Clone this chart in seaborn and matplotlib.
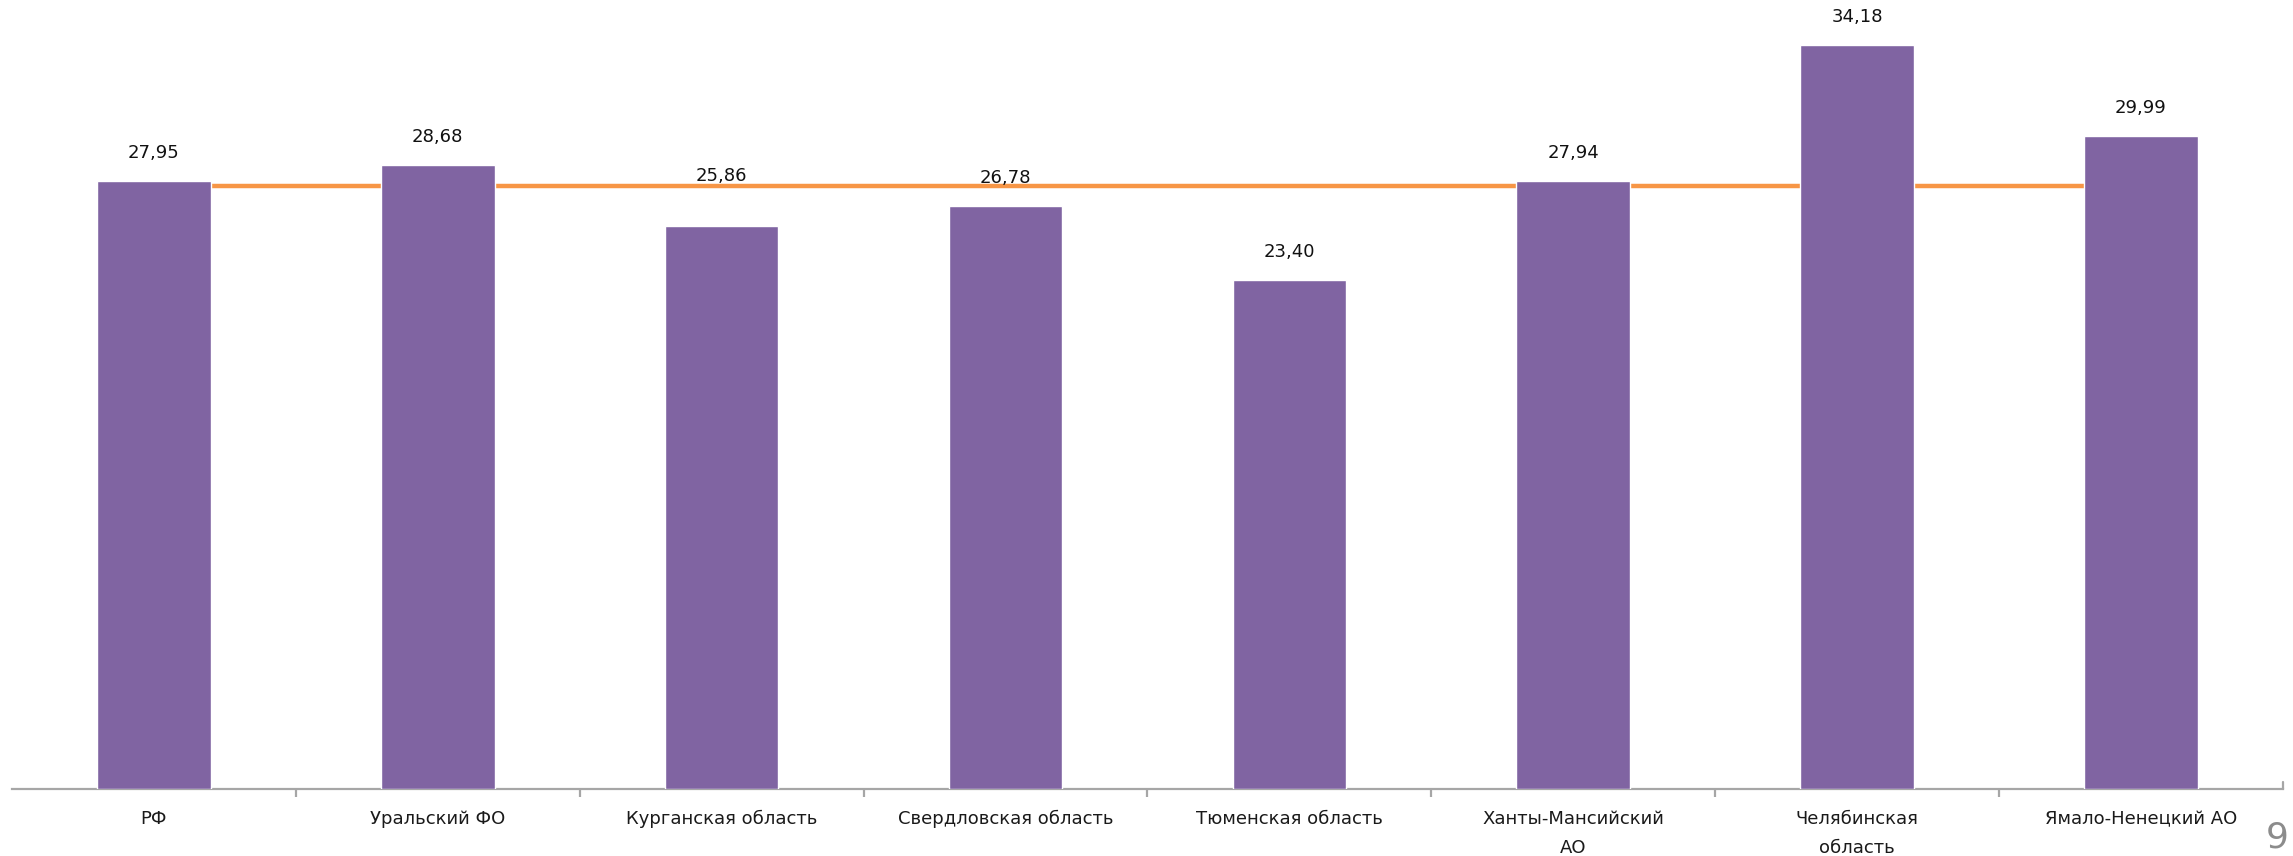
import numpy as np
import pandas as pd
import matplotlib
matplotlib.use("Agg")
import matplotlib.pyplot as plt
import seaborn as sns

categories = ["РФ", "Уральский ФО", "Курганская область", "Свердловская область",
              "Тюменская область", "Ханты-Мансийский\nАО", "Челябинская\nобласть",
              "Ямало-Ненецкий АО"]
values = [27.95, 28.68, 25.86, 26.78, 23.40, 27.94, 34.18, 29.99]
value_labels = ["27,95", "28,68", "25,86", "26,78", "23,40", "27,94", "34,18", "29,99"]
line_values = [27.72] * 8
page_number = "9"

sns.set_theme(style="white")
plt.rcParams["font.family"] = ["DejaVu Sans"]

fig = plt.figure(figsize=(22.93, 8.56), dpi=100)
ax = fig.add_axes([0.0052, 1 - 789 / 856, 0.9904, 789 / 856])

df = pd.DataFrame({"cat": categories, "val": values})
sns.barplot(data=df, x="cat", y="val", color="#8064A2", saturation=1, width=0.4,
            ax=ax, zorder=3)
sns.lineplot(x=np.arange(len(categories)), y=line_values, color="#F79646",
             linewidth=3.2, ax=ax, zorder=2)

ax.set_xlim(-0.5, len(categories) - 0.5)
ax.set_ylim(0, 36.26)
ax.set_xlabel("")
ax.set_ylabel("")
ax.set_yticks([])
for s in ["left", "right", "top"]:
    ax.spines[s].set_visible(False)
ax.spines["bottom"].set_color("#A6A6A6")
ax.spines["bottom"].set_linewidth(1.6)

ax.set_xticks(range(len(categories)))
ax.set_xticklabels(categories, fontsize=13, color="#1a1a1a", linespacing=1.8,
                   va="top")
ax.tick_params(axis="x", which="major", length=0, pad=15, bottom=True)
ax.set_xticks(np.arange(0.5, len(categories) - 0.5, 1), minor=True)
ax.tick_params(axis="x", which="minor", length=6, width=1.6, color="#A6A6A6",
               direction="out", bottom=True)
ax.plot([len(categories) - 0.5] * 2, [0, 0.3], color="#A6A6A6", lw=1.6,
        clip_on=False, zorder=4)

for i, (v, lab) in enumerate(zip(values, value_labels)):
    off = 50 if i == 2 else 28
    ax.annotate(lab, (i, v), xytext=(0, off), textcoords="offset pixels",
                ha="center", va="center", fontsize=13, color="#111111")

fig.text(2289 / 2293, 1 - 854 / 856, page_number, fontsize=26, color="#8C8C8C",
         ha="right", va="bottom")

fig.savefig("out.png", dpi=100)
